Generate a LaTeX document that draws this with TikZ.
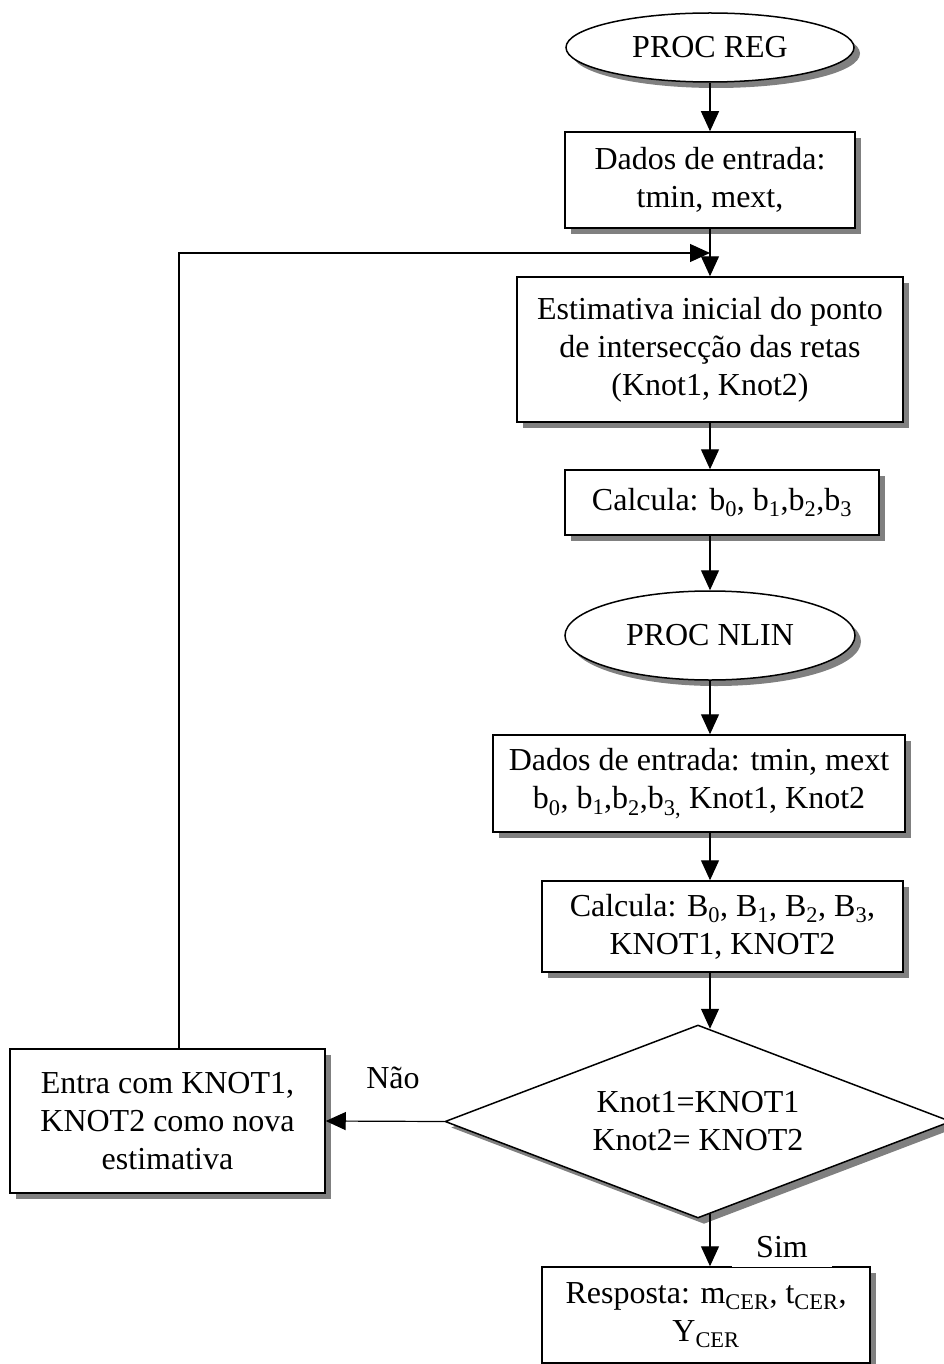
\documentclass[tikz,border=0pt]{standalone}
\usepackage{fontspec}
\setmainfont{Liberation Serif}
\usetikzlibrary{shapes.geometric,arrows.meta,shadows,calc}
\definecolor{shadowgray}{RGB}{128,128,128}
\begin{document}
\begin{tikzpicture}[x=1pt,y=-1pt,
  font=\fontsize{32}{38}\selectfont,
  box/.style={draw, line width=1.5pt, fill=white, align=center, inner sep=0pt,
    drop shadow={shadow xshift=6pt, shadow yshift=-6pt, fill=shadowgray, opacity=1}},
  term/.style={box, ellipse},
  arr/.style={line width=1.2pt, -{Triangle[length=20pt,width=18pt]}},
  ln/.style={line width=1.2pt}]
\useasboundingbox (0,0) rectangle (943,1364);
\coordinate (col) at (710,0);
\coordinate (loopx) at (179,0);
\coordinate (join) at (710,253);

\node[term, minimum width=288pt, minimum height=69pt] (reg) at (710,47.5) {PROC REG};
\node[box, minimum width=290pt, minimum height=96pt] (box1) at (710,180) {Dados de entrada:\\tmin, mext,};
\node[box, minimum width=386pt, minimum height=145pt] (est) at (710,349.5) {Estimativa inicial do ponto\\de intersecção das retas\\(Knot1, Knot2)};
\node[box, minimum width=314pt, minimum height=65pt] (calcb) at (722,502.5) {Calcula: b\textsubscript{0}, b\textsubscript{1},b\textsubscript{2},b\textsubscript{3}};
\node[term, minimum width=290pt, minimum height=89pt] (nlin) at (710,635.5) {PROC NLIN};
\node[box, minimum width=412pt, minimum height=97pt] (box2) at (699,783.5) {Dados de entrada: tmin, mext\\b\textsubscript{0}, b\textsubscript{1},b\textsubscript{2},b\textsubscript{3,} Knot1, Knot2};
\node[box, minimum width=361pt, minimum height=91pt] (calcB) at (722.5,926.5) {Calcula: B\textsubscript{0}, B\textsubscript{1}, B\textsubscript{2}, B\textsubscript{3},\\KNOT1, KNOT2};
\node[box, diamond, shape aspect=2.62, minimum width=506pt, minimum height=193pt] (dia) at (698,1121.5) {Knot1=KNOT1\\Knot2= KNOT2};
\node[box, minimum width=315pt, minimum height=144pt] (entra) at (167.5,1121) {Entra com KNOT1,\\KNOT2 como nova\\estimativa};
\node[box, minimum width=328pt, minimum height=96pt] (resp) at (706,1315) {Resposta: m\textsubscript{CER}, t\textsubscript{CER},\\Y\textsubscript{CER}};

\draw[arr] (reg.south) -- (box1.north);
\draw[arr] (box1.south) -- (est.north);
\draw[arr] (loopx |- entra.north) -- (loopx |- join) -- (join);
\draw[arr] (col |- est.south) -- (col |- calcb.north);
\draw[arr] (col |- calcb.south) -- (nlin.north);
\draw[arr] (nlin.south) -- (col |- box2.north);
\draw[arr] (col |- box2.south) -- (col |- calcB.north);
\draw[arr] (col |- calcB.south) -- ($(col |- dia.north)+(0,4.5)$);
\draw[arr] (dia.west) -- (entra.east);
\draw[arr] ($(col |- dia.south)+(0,-4.5)$) -- (col |- resp.north);

\node[anchor=base] (nao) at (393,1088) {Não};
\node[anchor=base, fill=white, text depth=0pt, inner xsep=24pt, inner ysep=10pt] (sim) at (782,1257) {Sim};
\end{tikzpicture}
\end{document}
